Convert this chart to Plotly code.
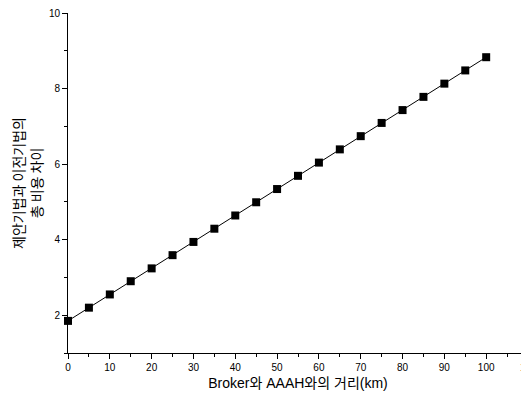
import plotly.graph_objects as go

distance_km = [0, 5, 10, 15, 20, 25, 30, 35, 40, 45, 50, 55, 60, 65, 70, 75, 80, 85, 90, 95, 100]
cost_diff = [1.85, 2.20, 2.55, 2.90, 3.24, 3.59, 3.94, 4.29, 4.64, 4.99, 5.34,
             5.69, 6.04, 6.39, 6.74, 7.09, 7.43, 7.78, 8.13, 8.48, 8.83]
x_ticks = [0, 10, 20, 30, 40, 50, 60, 70, 80, 90, 100, 110]
y_ticks = [2, 4, 6, 8, 10]

fig = go.Figure(go.Scatter(
    x=distance_km, y=cost_diff, mode="lines+markers",
    line=dict(color="black", width=1),
    marker=dict(symbol="square", size=8, color="black"),
    cliponaxis=False,
))

axis_common = dict(
    showline=True, linecolor="black", linewidth=1, ticks="outside", ticklen=5,
    tickcolor="black", showgrid=False, zeroline=False, automargin=False,
    ticklabeloverflow="allow",
    tickfont=dict(family="Liberation Sans, Arial", size=10, color="black"),
)
fig.update_xaxes(range=[0, 110], tickvals=x_ticks,
                 minor=dict(ticks="outside", ticklen=3, dtick=5, tickcolor="black", tick0=0),
                 title=dict(text="Broker와 AAAH와의 거리(km)", standoff=6,
                            font=dict(family="Liberation Sans, Noto Sans CJK KR", size=14, color="black")),
                 **axis_common)
fig.update_yaxes(range=[1, 10], tickvals=y_ticks,
                 minor=dict(ticks="outside", ticklen=3, dtick=1, tickcolor="black", tick0=0),
                 title=dict(text="제안기법과 이전기법의<br>총 비용 차이", standoff=15,
                            font=dict(family="Noto Sans CJK KR", size=14, color="black")),
                 **axis_common)

fig.update_layout(
    width=529, height=407, showlegend=False,
    margin=dict(l=60, r=9, t=5, b=62),
    plot_bgcolor="white", paper_bgcolor="white",
)
fig.write_html("out.html")
